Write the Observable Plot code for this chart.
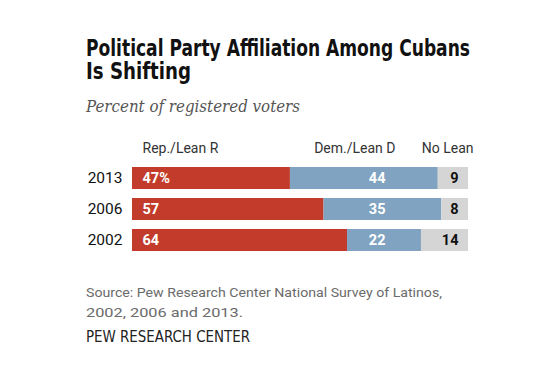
<!DOCTYPE html>
<html>
<head>
<meta charset="utf-8">
<script src="https://cdn.jsdelivr.net/npm/d3@7"></script>
<script src="https://cdn.jsdelivr.net/npm/@observablehq/plot@0.6"></script>
<style>
  body { margin: 0; background: #fff; width: 560px; height: 373px; position: relative; overflow: hidden; }
  .t { position: absolute; left: 86px; white-space: nowrap; transform-origin: 0 0; }
  .line { display: block; transform-origin: 0 0; white-space: nowrap; }
  #title { top: 37px; font-family: "DejaVu Sans Condensed", Roboto, sans-serif; font-weight: bold; font-size: 23px; line-height: 23px; color: #111; }
  #subtitle { top: 97px; font-family: "DejaVu Serif", "Liberation Serif", serif; font-style: italic; font-size: 16px; color: #555; }
  #source { top: 282px; font-family: Roboto, "Liberation Sans", sans-serif; font-size: 13.5px; line-height: 20px; color: #6b6b6b; }
  #brand { top: 328px; font-family: "DejaVu Sans Condensed", Roboto, sans-serif; font-size: 15px; color: #222; }
  #chart { position: absolute; left: 0; top: 130px; }
</style>
</head>
<body>
<div id="title" class="t"><span class="line" data-w="384">Political Party Affiliation Among Cubans</span><span class="line" data-w="105">Is Shifting</span></div>
<div id="subtitle" class="t"><span class="line" data-w="214">Percent of registered voters</span></div>
<div id="chart"></div>
<div id="source" class="t"><span class="line" data-w="356">Source: Pew Research Center National Survey of Latinos,</span><span class="line" data-w="157">2002, 2006 and 2013.</span></div>
<div id="brand" class="t"><span class="line" data-w="164">PEW RESEARCH CENTER</span></div>
<script>
const years = ["2013", "2006", "2002"];
const rep = [47, 57, 64];
const dem = [44, 35, 22];
const noLean = [9, 8, 14];
const seriesNames = ["Rep./Lean R", "Dem./Lean D", "No Lean"];
const repLabels = ["47%", "57", "64"];

const colors = ["#c23b2b", "#7fa3c0", "#d5d5d5"];

const rows = [];
years.forEach((y, i) => {
  const vals = [rep[i], dem[i], noLean[i]];
  const labs = [repLabels[i], String(dem[i]), String(noLean[i])];
  let x0 = 0;
  vals.forEach((v, j) => {
    rows.push({year: y, series: seriesNames[j], x1: x0, x2: x0 + v, label: labs[j], k: j});
    x0 += v;
  });
});

const font = "Roboto, 'Liberation Sans', sans-serif";
const hdr = {frameAnchor: "top", lineAnchor: "middle", dy: -19, fontSize: 14, fill: "#333"};
const chart = Plot.plot({
  width: 560,
  height: 131,
  marginTop: 37,
  marginBottom: 10,
  marginLeft: 132,
  marginRight: 92,
  x: {domain: [0, 100], axis: null},
  y: {domain: years, paddingInner: 0.3, paddingOuter: 0, axis: null},
  color: {domain: seriesNames, range: colors},
  style: {fontFamily: font},
  marks: [
    Plot.barX(rows, {x1: "x1", x2: "x2", y: "year", fill: "series"}),
    Plot.text(years, {x: 0, y: d => d, text: d => d, textAnchor: "end", dx: -10, fontSize: 15.5, fill: "#111"}),
    Plot.text(rows.filter(d => d.k === 0), {x: "x1", y: "year", text: "label", textAnchor: "start", dx: 10, fontSize: 14.5, fontWeight: "bold", fill: "#fff"}),
    Plot.text(rows.filter(d => d.k === 1), {x: 100, y: "year", text: "label", textAnchor: "end", dx: -83, fontSize: 14.5, fontWeight: "bold", fill: "#fff"}),
    Plot.text(rows.filter(d => d.k === 2), {x: "x2", y: "year", text: "label", textAnchor: "end", dx: -10, fontSize: 14.5, fontWeight: "bold", fill: "#111"}),
    Plot.text([seriesNames[0]], {...hdr, x: 0, text: d => d, textAnchor: "start", dx: 10}),
    Plot.text([seriesNames[1]], {...hdr, x: 100, text: d => d, textAnchor: "end", dx: -73}),
    Plot.text([seriesNames[2]], {...hdr, x: 100, text: d => d, textAnchor: "end", dx: 5})
  ]
});
document.getElementById("chart").appendChild(chart);

function fit() {
  document.querySelectorAll(".line").forEach(el => {
    el.style.transform = "none";
    el.style.display = "inline-block";
    const w = el.getBoundingClientRect().width;
    el.style.display = "block";
    const target = +el.dataset.w;
    if (w > 0) el.style.transform = `scaleX(${target / w})`;
  });
}
fit();
if (document.fonts && document.fonts.ready) document.fonts.ready.then(fit);
</script>
</body>
</html>
